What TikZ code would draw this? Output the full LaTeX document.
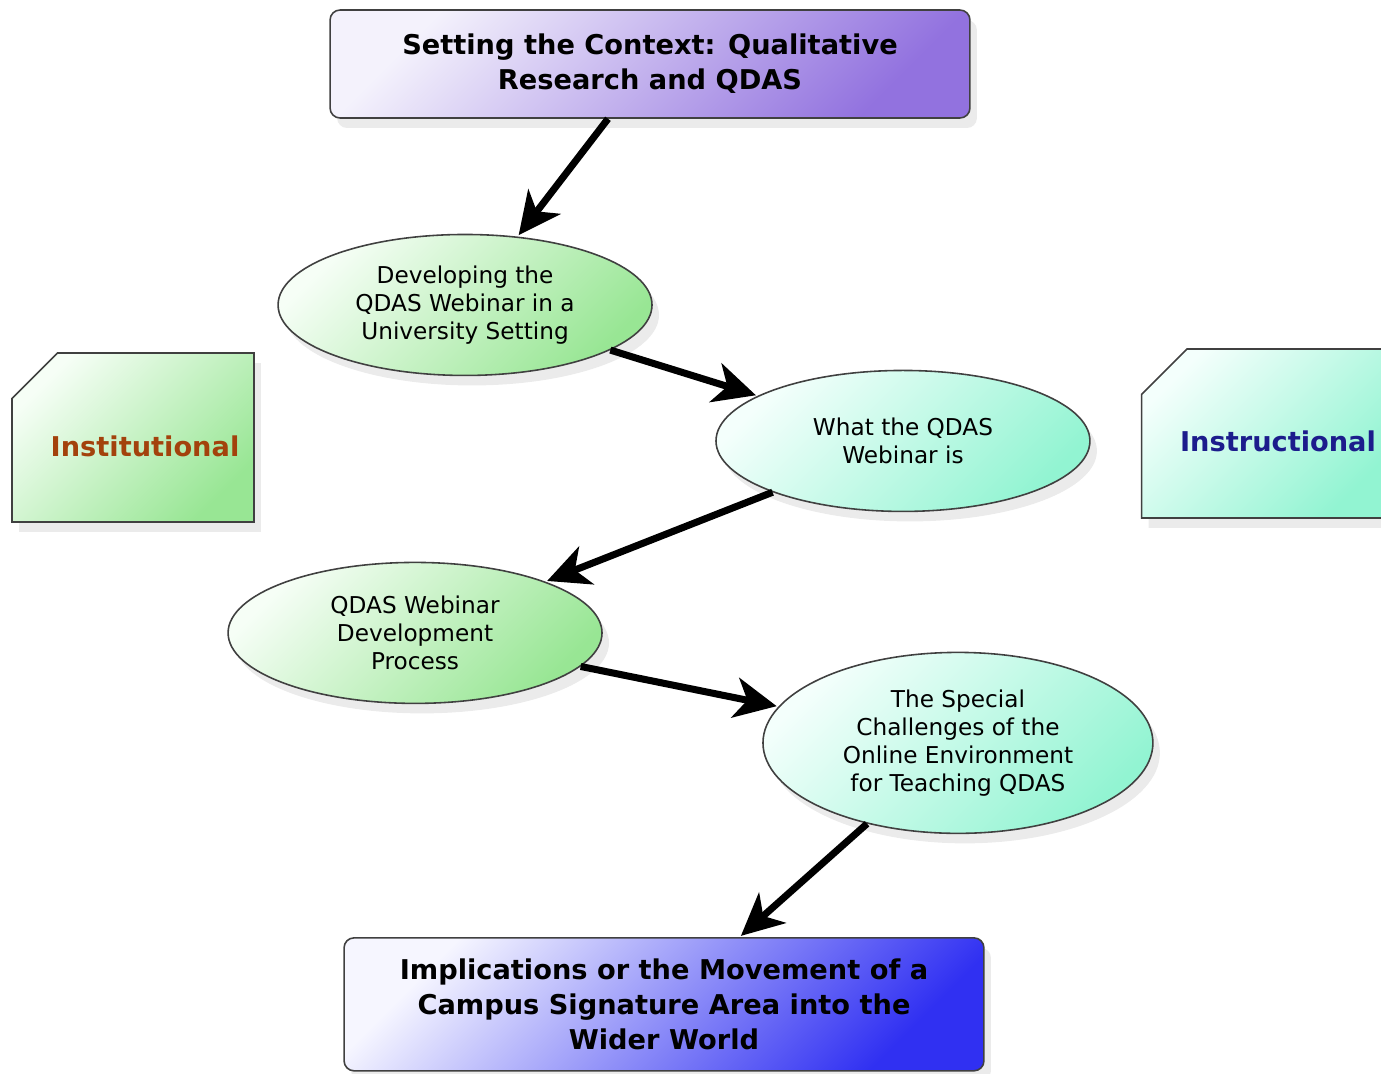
\documentclass[tikz,border=0pt]{standalone}
\usepackage{fontspec}
\setmainfont{DejaVu Sans}
\usetikzlibrary{arrows.meta,positioning,shapes.geometric,shapes.misc,shadows}

\definecolor{ctxlight}{HTML}{F4F2FC}
\definecolor{ctxdark}{HTML}{9272DF}
\definecolor{wldlight}{HTML}{F6F6FF}
\definecolor{wlddark}{HTML}{3030F2}
\definecolor{grnlight}{HTML}{F6FEF6}
\definecolor{grndark}{HTML}{98E694}
\definecolor{aqulight}{HTML}{F4FFFC}
\definecolor{aqudark}{HTML}{92F4D2}
\definecolor{instbrown}{HTML}{A3420C}
\definecolor{instnavy}{HTML}{1C1C8C}

\begin{document}
\begin{tikzpicture}[->,>={Stealth[length=24pt,width=23pt,inset=7pt]},shorten >=1pt,
                    on grid,x=0.02cm,y=-0.02cm]
  \tikzstyle{shade box}=[shading=axis,shading angle=45,draw=black!75,line width=0.9pt,
                         drop shadow={shadow xshift=0.14cm,shadow yshift=-0.2cm,opacity=0.16}]
  \tikzstyle{part}=[shade box,rectangle,rounded corners=0.2cm,minimum width=12.8cm,
                    align=center,font=\bfseries\fontsize{15.5}{20}\selectfont]
  \tikzstyle{topic}=[shade box,ellipse,inner sep=0pt,minimum width=7.48cm,minimum height=2.82cm,
                     align=center,font=\fontsize{13.2}{15.9}\selectfont]
  \tikzstyle{side}=[shade box,chamfered rectangle,chamfered rectangle corners=north west,
                    chamfered rectangle xsep=0.98cm,chamfered rectangle ysep=0.7cm,
                    minimum width=4.84cm,minimum height=3.38cm,inner sep=0pt,
                    font=\bfseries\fontsize{15.5}{18}\selectfont]
  \tikzstyle{green}=[top color=grnlight,bottom color=grndark,shading angle=45]
  \tikzstyle{aqua}=[top color=aqulight,bottom color=aqudark,shading angle=45]

  \path[use as bounding box,clip] (0,0) rectangle (1381,1073);

  \node[part,top color=ctxlight,bottom color=ctxdark,shading angle=45,minimum height=2.16cm]
                                  (ctx)  at (650,64)                        {Setting the Context: Qualitative\\Research and QDAS};
  \node[topic,green]              (dev)  [below left=4.82cm and 3.7cm of ctx]  {Developing the\\QDAS Webinar in a\\University Setting};
  \node[topic,aqua]               (what) [below right=2.72cm and 8.76cm of dev] {What the QDAS\\Webinar is};
  \node[topic,green]              (proc) [below left=3.84cm and 9.76cm of what] {QDAS Webinar\\Development\\Process};
  \node[topic,aqua,minimum width=7.8cm,minimum height=3.62cm]
                                  (chal) [below right=2.2cm and 10.86cm of proc] {The Special\\Challenges of the\\Online Environment\\for Teaching QDAS};
  \node[part,top color=wldlight,bottom color=wlddark,shading angle=45,minimum height=2.66cm]
                                  (wide) [below left=5.23cm and 5.88cm of chal] {Implications or the Movement of a\\Campus Signature Area into the\\Wider World};

  \node[side,green,text=instbrown] (inst)  at (133,437.5)  {\raisebox{-0.18cm}[\height][\depth]{\hspace*{0.48cm}Institutional}};
  \node[side,aqua,text=instnavy]   (instr) at (1264,433.5) {\raisebox{-0.15cm}[\height][\depth]{\hspace*{0.56cm}Instructional}};

  \path[line width=4pt] (ctx)  edge (dev)
                        (dev)  edge (what)
                        (what) edge (proc)
                        (proc) edge (chal)
                        (chal) edge (wide);
\end{tikzpicture}
\end{document}
